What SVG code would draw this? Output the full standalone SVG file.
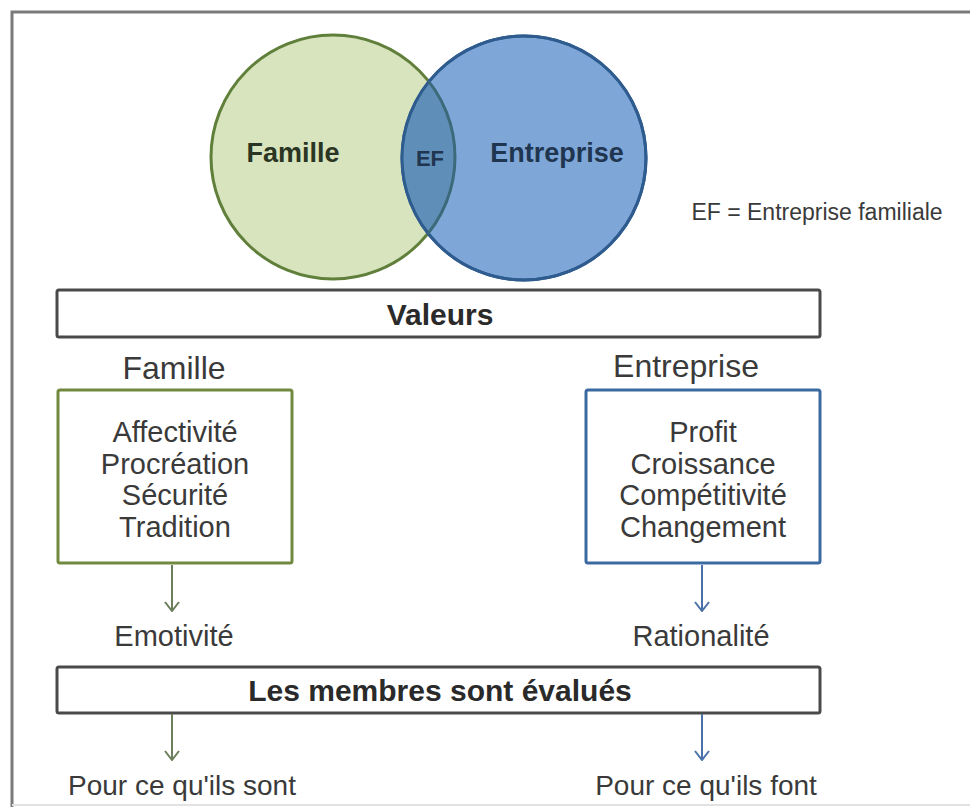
<svg xmlns="http://www.w3.org/2000/svg" width="970" height="807" viewBox="0 0 970 807">
<defs>
<style>
.t{font-family:"Liberation Sans",Arial,sans-serif;fill:#3a3a3a;text-anchor:middle}
.b{font-weight:bold}
.box{fill:#ffffff;stroke:#4a4a4a;stroke-width:3}
.g{stroke:#6b7f5a;stroke-width:2;fill:none}
.bl{stroke:#4a72a8;stroke-width:2;fill:none}
</style>
<marker id="ag" viewBox="0 0 12 16" refX="11" refY="8" markerWidth="12" markerHeight="16" markerUnits="userSpaceOnUse" orient="auto">
<path d="M2,1 L11,8 L2,15" fill="none" stroke="#6b7f5a" stroke-width="2"/>
</marker>
<marker id="ab" viewBox="0 0 12 16" refX="11" refY="8" markerWidth="12" markerHeight="16" markerUnits="userSpaceOnUse" orient="auto">
<path d="M2,1 L11,8 L2,15" fill="none" stroke="#4a72a8" stroke-width="2"/>
</marker>
<clipPath id="clipG"><circle cx="333" cy="157" r="122"/></clipPath>
<clipPath id="clipB"><circle cx="524" cy="158" r="122"/></clipPath>
</defs>
<rect width="970" height="807" fill="#ffffff"/>
<g id="frame">
<path d="M12,807 L12,12 L970,12" fill="none" stroke="#7a7a7a" stroke-width="3"/>
<line x1="12" y1="805" x2="970" y2="805" stroke="#e2e2e2" stroke-width="2"/>
</g>
<g id="venn-famille">
<circle cx="333" cy="157" r="122" fill="#d7e4bd" stroke="#5f7f3a" stroke-width="3"/>
<text class="t b" x="293" y="162" font-size="27" style="fill:#2b3524">Famille</text>
</g>
<g id="venn-entreprise">
<circle cx="524" cy="158" r="122" fill="#7ea7d8" stroke="#2f5c8f" stroke-width="3"/>
<text class="t b" x="557" y="162" font-size="27" style="fill:#1f3550">Entreprise</text>
</g>
<g id="venn-ef">
<circle cx="524" cy="158" r="122" fill="#5f8fb8" clip-path="url(#clipG)"/>
<circle cx="524" cy="158" r="122" fill="none" stroke="#2f5c8f" stroke-width="3"/>
<circle cx="333" cy="157" r="122" fill="none" stroke="#3d6a7a" stroke-width="3" clip-path="url(#clipB)"/>
<text class="t b" x="430" y="166" font-size="22" style="fill:#1f3550">EF</text>
</g>
<g id="legend">
<text class="t" x="817" y="220" font-size="23">EF = Entreprise familiale</text>
</g>
<g id="valeurs">
<rect class="box" x="57" y="290" width="763" height="47" rx="2"/>
<text class="t b" x="440" y="325" font-size="30" style="fill:#2a2a2a">Valeurs</text>
</g>
<g id="label-famille">
<text class="t" x="174" y="379" font-size="32">Famille</text>
</g>
<g id="label-entreprise">
<text class="t" x="686" y="377" font-size="32">Entreprise</text>
</g>
<g id="box-famille">
<rect x="58" y="390" width="234" height="173" rx="2" fill="#ffffff" stroke="#71893f" stroke-width="3"/>
<text class="t" x="175" y="442" font-size="29">Affectivité</text>
<text class="t" x="175" y="474" font-size="29">Procréation</text>
<text class="t" x="175" y="505" font-size="29">Sécurité</text>
<text class="t" x="175" y="537" font-size="29">Tradition</text>
</g>
<g id="box-entreprise">
<rect x="586" y="390" width="234" height="173" rx="2" fill="#ffffff" stroke="#3b6aa0" stroke-width="3"/>
<text class="t" x="703" y="442" font-size="29">Profit</text>
<text class="t" x="703" y="474" font-size="29">Croissance</text>
<text class="t" x="703" y="505" font-size="29">Compétitivité</text>
<text class="t" x="703" y="537" font-size="29">Changement</text>
</g>
<g id="emotivite">
<text class="t" x="174" y="646" font-size="29">Emotivité</text>
</g>
<g id="rationalite">
<text class="t" x="701" y="646" font-size="29">Rationalité</text>
</g>
<g id="evalues">
<rect class="box" x="57" y="667" width="763" height="46" rx="2"/>
<text class="t b" x="440" y="701" font-size="30" style="fill:#2a2a2a">Les membres sont évalués</text>
</g>
<g id="sont">
<text class="t" x="182" y="795" font-size="28">Pour ce qu'ils sont</text>
</g>
<g id="font">
<text class="t" x="706" y="795" font-size="28">Pour ce qu'ils font</text>
</g>
<g id="connectors">
<line class="g" x1="172" y1="565" x2="172" y2="611" marker-end="url(#ag)"/>
<line class="bl" x1="702" y1="565" x2="702" y2="611" marker-end="url(#ab)"/>
<line class="g" x1="172" y1="714" x2="172" y2="760" marker-end="url(#ag)"/>
<line class="bl" x1="702" y1="714" x2="702" y2="760" marker-end="url(#ab)"/>
</g>
</svg>
